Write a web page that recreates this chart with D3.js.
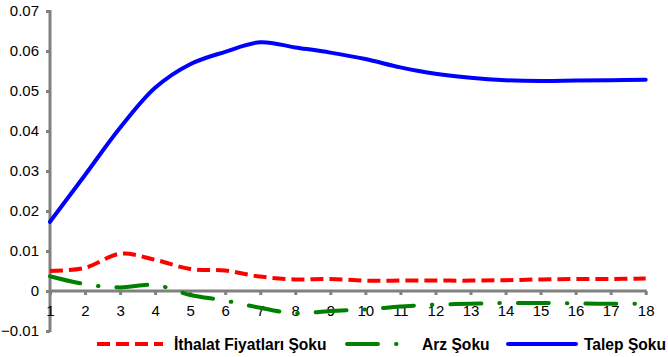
<!DOCTYPE html>
<html>
<head>
<meta charset="utf-8">
<script src="https://cdn.jsdelivr.net/npm/d3@7"></script>
<style>
  html, body { margin: 0; padding: 0; background: #fff; }
  svg { display: block; font-family: "Liberation Sans", Arial, sans-serif; }
</style>
</head>
<body>
<svg id="chart" width="668" height="357"></svg>
<script>
// Periods after the shock
const periods = d3.range(1, 19);

// Responses to each shock
const ithalatFiyatlari = [0.0050, 0.0058, 0.0093, 0.0078, 0.0055, 0.0051, 0.0036, 0.0029, 0.0030,
                          0.0026, 0.0026, 0.0026, 0.0026, 0.0027, 0.0029, 0.0030, 0.0030, 0.0031];
const arz = [0.0037, 0.0017, 0.0009, 0.0015, -0.0010, -0.0024, -0.0042, -0.0056, -0.0050,
             -0.0046, -0.0039, -0.0034, -0.0032, -0.0030, -0.0030, -0.0031, -0.0032, -0.0032];
const talep = [0.0173, 0.0290, 0.0408, 0.0508, 0.0567, 0.0598, 0.0622, 0.0609, 0.0596,
               0.0580, 0.0559, 0.0543, 0.0533, 0.0527, 0.0525, 0.0526, 0.0527, 0.0528];

const yTicks = [-0.01, 0, 0.01, 0.02, 0.03, 0.04, 0.05, 0.06, 0.07];

const seriesNames = ["İthalat Fiyatları Şoku", "Arz Şoku", "Talep Şoku"];
const seriesColors = ["#ff0000", "#008000", "#0000ff"];

const svg = d3.select("#chart");

const x = d3.scalePoint().domain(periods).range([50, 645.7]);
const y = d3.scaleLinear().domain([-0.01, 0.07]).range([331, 11]);

const axisColor = "#808080";
const fmt = v => v === 0 ? "0" : d3.format(".2f")(v);

// Y axis
const yAxis = svg.append("g").attr("transform", "translate(50,0)")
  .call(d3.axisLeft(y).tickValues(yTicks).tickSize(4).tickPadding(7).tickFormat(fmt));
yAxis.select(".domain").attr("stroke", axisColor).attr("stroke-width", 3)
  .attr("d", `M0,${y(-0.01) + 1}V${y(0.07) - 1}`);
yAxis.selectAll(".tick line").attr("stroke", axisColor).attr("stroke-width", 3);
yAxis.selectAll(".tick text").attr("font-size", 15).attr("fill", "#000");

// X axis along zero
const xAxis = svg.append("g").attr("transform", `translate(0,${y(0)})`)
  .call(d3.axisBottom(x).tickSize(4).tickPadding(10));
xAxis.select(".domain").attr("stroke", axisColor).attr("stroke-width", 3)
  .attr("d", `M${x(1)},0H${x(18) + 1}`);
xAxis.selectAll(".tick line").attr("stroke", axisColor).attr("stroke-width", 3);
xAxis.selectAll(".tick text").attr("font-size", 15).attr("fill", "#000");

// Lines
const line = d3.line()
  .x((d, i) => x(periods[i]))
  .y(d => y(d))
  .curve(d3.curveCatmullRom.alpha(0.5));

const styles = [
  { dash: "13,6", cap: "butt" },
  { dash: "31,18,0.5,18", cap: "round" },
  { dash: null, cap: "round" }
];

[ithalatFiyatlari, arz, talep].forEach((data, k) => {
  svg.append("path")
    .datum(data)
    .attr("d", line)
    .attr("fill", "none")
    .attr("stroke", seriesColors[k])
    .attr("stroke-width", 4)
    .attr("stroke-linecap", styles[k].cap)
    .attr("stroke-dasharray", styles[k].dash);
});

// Legend
const legendY = 344;
const legendItems = [
  { x1: 97, x2: 163, tx: 174 },
  { x1: 347, x2: 398, tx: 422 },
  { x1: 508, x2: 576, tx: 584 }
];
legendItems.forEach((it, k) => {
  svg.append("line")
    .attr("x1", it.x1).attr("x2", it.x2)
    .attr("y1", legendY).attr("y2", legendY)
    .attr("stroke", seriesColors[k])
    .attr("stroke-width", 4)
    .attr("stroke-linecap", styles[k].cap)
    .attr("stroke-dasharray", styles[k].dash);
  svg.append("text")
    .attr("x", it.tx).attr("y", legendY + 5.5)
    .attr("font-size", 15.6).attr("font-weight", "bold")
    .attr("fill", "#000")
    .text(seriesNames[k]);
});
</script>
</body>
</html>
